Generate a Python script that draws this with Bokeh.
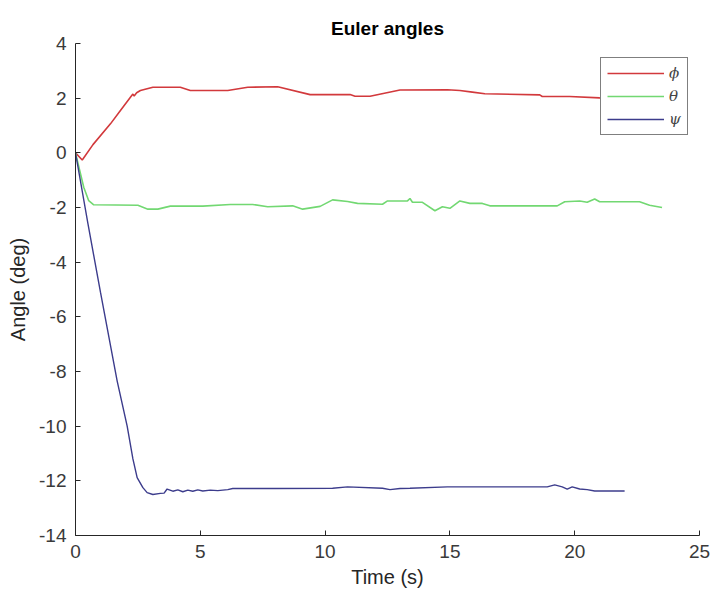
from bokeh.plotting import figure
from bokeh.models import FixedTicker, Legend, LegendItem, Range1d
from bokeh.embed import file_html
from bokeh.resources import INLINE

# --- data ---
phi_t = [0, 0.27, 0.7, 1.4, 1.8, 2.2, 2.3, 2.35, 2.45, 2.6, 3.1, 4.2, 4.6, 6.1, 6.9, 8.1,
         9.4, 11.0, 11.2, 11.8, 13.0, 14.9, 15.4, 15.9, 16.4, 18.6, 18.7, 19.8, 21.0, 23.4]
phi_v = [0, -0.26, 0.3, 1.06, 1.55, 2.03, 2.15, 2.08, 2.2, 2.28, 2.4, 2.4, 2.28, 2.28, 2.4, 2.42,
         2.13, 2.13, 2.07, 2.07, 2.3, 2.31, 2.28, 2.22, 2.16, 2.12, 2.06, 2.06, 2.01, 2.0]

theta_t = [0, 0.33, 0.53, 0.73, 2.5, 2.9, 3.3, 3.8, 5.1, 6.2, 7.1, 7.7, 8.7, 9.1, 9.8, 10.3,
           10.9, 11.3, 12.3, 12.5, 13.3, 13.4, 13.5, 13.9, 14.4, 14.7, 15.0, 15.4, 15.8, 16.3,
           16.6, 19.3, 19.6, 20.2, 20.5, 20.8, 21.0, 22.6, 23.0, 23.5]
theta_v = [0, -1.26, -1.75, -1.9, -1.92, -2.06, -2.06, -1.95, -1.95, -1.89, -1.89, -1.97, -1.94,
           -2.06, -1.96, -1.72, -1.78, -1.85, -1.88, -1.76, -1.76, -1.67, -1.81, -1.81, -2.12,
           -1.97, -2.03, -1.76, -1.85, -1.85, -1.94, -1.94, -1.79, -1.76, -1.81, -1.69, -1.79,
           -1.79, -1.92, -2.0]

psi_t = [0, 0.5, 1.0, 1.67, 2.07, 2.3, 2.47, 2.7, 2.87, 3.1, 3.4, 3.55, 3.67, 3.9, 4.1, 4.3,
         4.5, 4.7, 4.9, 5.1, 5.4, 5.7, 6.1, 6.3, 8.0, 10.3, 10.9, 12.3, 12.6, 13.0, 13.4, 14.9,
         18.9, 19.2, 19.5, 19.7, 19.9, 20.2, 20.5, 20.8, 22.0]
psi_v = [0, -2.6, -5.1, -8.35, -10.0, -11.2, -11.88, -12.25, -12.43, -12.5, -12.46, -12.45,
         -12.3, -12.38, -12.33, -12.40, -12.34, -12.38, -12.33, -12.37, -12.34, -12.36, -12.32,
         -12.28, -12.28, -12.27, -12.22, -12.27, -12.32, -12.28, -12.27, -12.22, -12.22, -12.15,
         -12.22, -12.3, -12.22, -12.3, -12.32, -12.37, -12.37]

x_ticks = [0, 5, 10, 15, 20, 25]
y_ticks = [-14, -12, -10, -8, -6, -4, -2, 0, 2, 4]
labels = ["ϕ", "θ", "ψ"]

FONT = "Liberation Sans"
DARK = "#262626"

p = figure(width=711, height=590, output_backend="svg", toolbar_location=None,
           x_range=Range1d(0, 25), y_range=Range1d(-14, 4),
           min_border_left=75, min_border_right=12, min_border_top=43, min_border_bottom=55,
           title="Euler angles")
p.outline_line_color = None
p.background_fill_color = "white"
p.border_fill_color = "white"
p.xgrid.visible = False
p.ygrid.visible = False

p.title.align = "center"
p.title.text_font = FONT
p.title.text_font_style = "bold"
p.title.text_font_size = "19px"
p.title.text_color = "black"

for ax in (p.xaxis[0], p.yaxis[0]):
    ax.axis_line_color = DARK
    ax.major_tick_line_color = DARK
    ax.major_tick_in = 5
    ax.major_tick_out = 0
    ax.minor_tick_line_color = None
    ax.major_label_text_font = FONT
    ax.major_label_text_font_size = "19px"
    ax.major_label_text_color = "#3a3a3a"
    ax.axis_label_text_font = FONT
    ax.axis_label_text_font_size = "20px"
    ax.axis_label_text_font_style = "normal"
    ax.axis_label_text_color = DARK

p.xaxis.ticker = FixedTicker(ticks=x_ticks)
p.yaxis.ticker = FixedTicker(ticks=y_ticks)
p.xaxis.major_label_overrides = {t: str(t) for t in x_ticks}
p.yaxis.major_label_overrides = {t: str(t) for t in y_ticks}
p.xaxis.axis_label = "Time (s)"
p.yaxis.axis_label = "Angle (deg)"
p.xaxis.major_label_standoff = 9
p.yaxis.major_label_standoff = 9
p.xaxis.axis_label_standoff = 5
p.yaxis.axis_label_standoff = 7

r1 = p.line(phi_t, phi_v, line_color="#d2393c", line_width=1.6)
r2 = p.line(theta_t, theta_v, line_color="#72d872", line_width=1.6)
r3 = p.line(psi_t, psi_v, line_color="#3c3c8c", line_width=1.4)

legend = Legend(items=[LegendItem(label=labels[0], renderers=[r1]),
                       LegendItem(label=labels[1], renderers=[r2]),
                       LegendItem(label=labels[2], renderers=[r3])],
                location=(525, 400))
legend.border_line_color = "black"
legend.border_line_width = 1
legend.background_fill_color = "white"
legend.background_fill_alpha = 1
legend.label_text_font = "DejaVu Serif"
legend.label_text_font_style = "italic"
legend.label_text_font_size = "15px"
legend.glyph_width = 57
legend.glyph_height = 18
legend.label_standoff = 5
legend.label_width = 7
legend.padding = 6
legend.spacing = 5
legend.margin = 0
p.add_layout(legend, "center")

open("out.html", "w").write(file_html(p, INLINE))
